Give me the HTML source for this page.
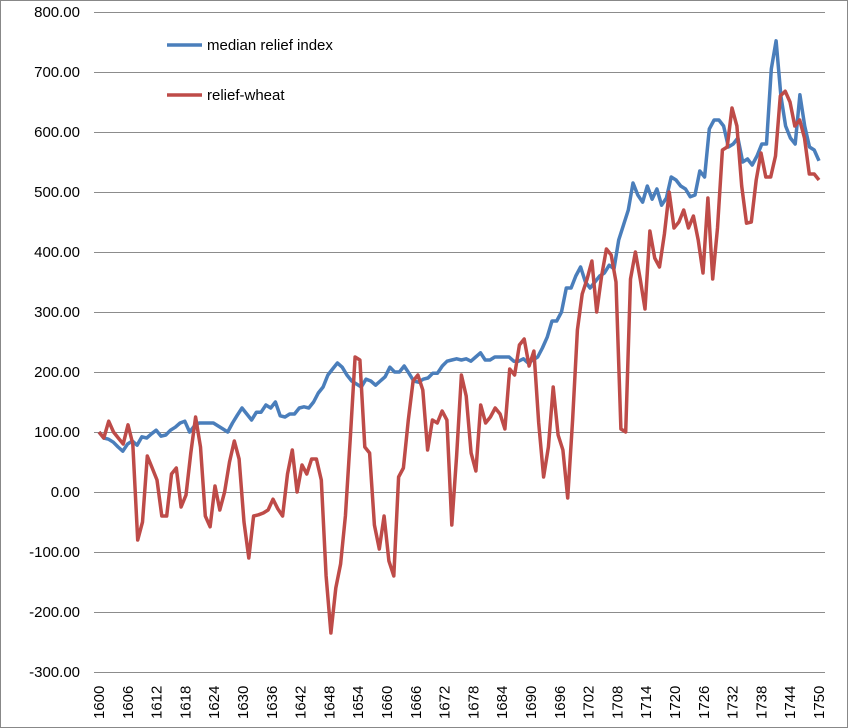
<!DOCTYPE html>
<html><head><meta charset="utf-8"><style>
html,body{margin:0;padding:0;background:#fff}
svg{display:block;font-family:"Liberation Sans",sans-serif}
</style></head><body>
<svg id="c" width="848" height="728" xmlns="http://www.w3.org/2000/svg">
<rect x="0.5" y="0.5" width="847" height="727" fill="#fff" stroke="#888" stroke-width="1"/>
<g id="grid" stroke="#8c8c8c" stroke-width="1"></g>
<g id="ylab" font-size="15" fill="#000" text-anchor="end"></g>
<g id="xlab" font-size="15" fill="#000"></g>
<polyline id="blue" fill="none" stroke="#4a7ebb" stroke-width="3.5" stroke-linejoin="round"/>
<polyline id="red" fill="none" stroke="#be4b48" stroke-width="3.5" stroke-linejoin="round"/>
<line x1="167" y1="45" x2="202" y2="45" stroke="#4a7ebb" stroke-width="3.5"/>
<text x="207" y="50" font-size="15">median relief index</text>
<line x1="167" y1="95" x2="202" y2="95" stroke="#be4b48" stroke-width="3.5"/>
<text x="207" y="100" font-size="15">relief-wheat</text>
</svg>
<script>
var NS="http://www.w3.org/2000/svg";
function Y(v){return 492-v*0.6}
function X(i){return 99+4.8*i}
var g=document.getElementById('grid'),yl=document.getElementById('ylab'),xl=document.getElementById('xlab');
for(var v=-300;v<=800;v+=100){
 var l=document.createElementNS(NS,'line');l.setAttribute('x1',94);l.setAttribute('x2',825);l.setAttribute('y1',Y(v)+0.5);l.setAttribute('y2',Y(v)+0.5);g.appendChild(l);
 var t=document.createElementNS(NS,'text');t.setAttribute('x',80);t.setAttribute('y',Y(v)+5);t.textContent=v.toFixed(2);yl.appendChild(t);
}
for(var yr=1600;yr<=1750;yr+=6){
 var t=document.createElementNS(NS,'text');var x=X(yr-1600)+5;
 t.setAttribute('transform','translate('+x+',719) rotate(-90)');t.textContent=yr;xl.appendChild(t);
}
var b=[100,90,88,83,75,68,80,85,78,92,90,97,103,93,95,103,108,115,118,100,110,115,115,115,115,110,105,100,115,128,140,130,120,133,133,145,140,150,127,125,130,130,140,142,140,150,165,175,195,205,215,208,195,185,180,175,188,185,178,185,192,208,200,200,210,198,185,183,188,190,198,198,210,218,220,222,220,222,218,225,232,220,220,225,225,225,225,218,218,222,215,220,225,240,258,285,285,300,340,340,360,375,350,340,350,360,365,378,372,420,445,470,515,495,483,510,488,505,478,490,525,520,510,505,492,495,535,525,605,620,620,610,575,580,590,550,555,545,560,580,580,705,752,660,610,590,580,662,610,575,570,552];
var r=[100,90,118,100,90,80,112,80,-80,-50,60,40,20,-40,-40,30,40,-25,-5,65,125,75,-40,-58,10,-30,0,50,85,55,-50,-110,-40,-38,-35,-30,-12,-28,-40,30,70,0,45,30,55,55,20,-140,-235,-160,-120,-40,90,225,220,75,65,-55,-95,-40,-115,-140,25,40,120,185,195,170,70,120,115,135,120,-55,60,195,160,65,35,145,115,125,140,130,105,205,195,245,255,210,235,115,25,75,175,95,70,-10,120,270,330,355,385,300,360,405,395,350,105,100,355,400,355,305,435,390,375,430,500,440,450,470,440,460,420,365,490,355,440,570,575,640,610,510,448,450,520,565,525,525,560,660,668,650,610,620,590,530,530,520];
function pts(a){var s=150/(a.length-1);return a.map(function(v,i){return X(i*s).toFixed(1)+','+Y(v).toFixed(1)}).join(' ')}
document.getElementById('blue').setAttribute('points',pts(b));
document.getElementById('red').setAttribute('points',pts(r));
</script>
</body></html>
